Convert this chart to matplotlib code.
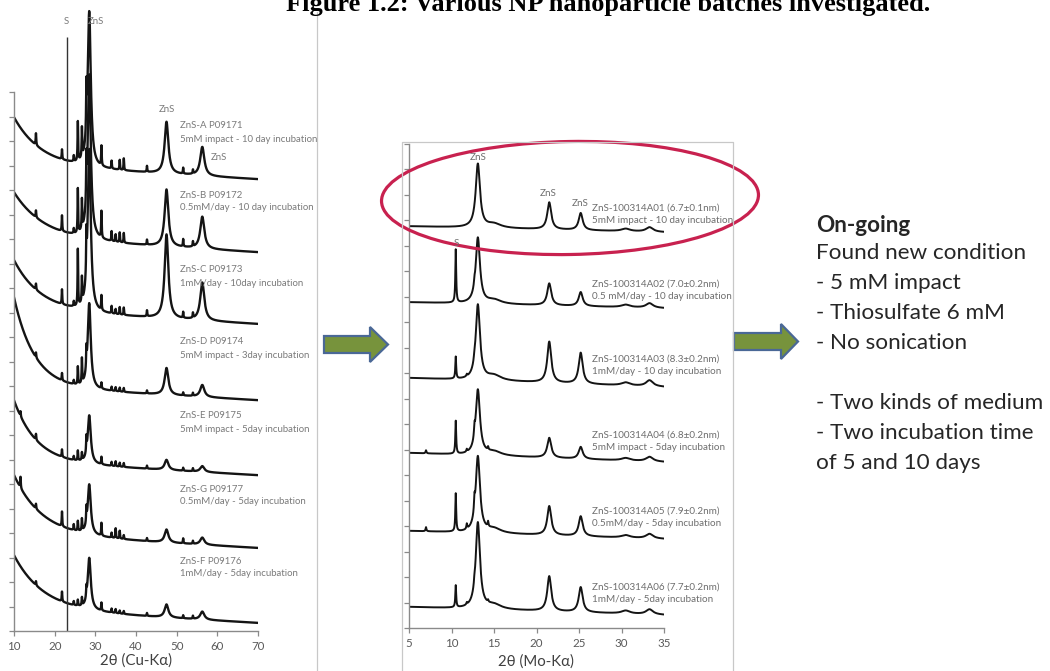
import numpy as np
import matplotlib
matplotlib.use("Agg")
import matplotlib.pyplot as plt
from matplotlib.patches import Ellipse, Polygon

# ---------------- data ----------------
# Left panel: Cu-Ka patterns, intensities in arbitrary units (100 a.u. per y tick)
cu_samples = ["ZnS-A P09171", "ZnS-B P09172", "ZnS-C P09173", "ZnS-D P09174",
              "ZnS-E P09175", "ZnS-G P09177", "ZnS-F P09176"]
cu_conditions = ["5mM impact - 10 day incubation", "0.5mM/day - 10 day incubation",
                 "1mM/day - 10day incubation", "5mM impact - 3day incubation",
                 "5mM impact - 5day incubation", "0.5mM/day - 5day incubation",
                 "1mM/day - 5day incubation"]
cu_level = [1844, 1546, 1253, 942, 636, 339, 33]          # background at 70 deg
cu_slope = [0.94, 0.94, 0.94, 0.94, 0.94, 0.94, 0.94]     # a.u. per degree
cu_decay_amp = [196, 188, 204, 363, 249, 241, 220]        # low-angle background
cu_decay_len = [6.7, 7.4, 6.5, 5.0, 5.5, 6.8, 7.1]
cu_peak_pos = [28.5, 47.5, 56.3]
cu_peak_hwhm = [0.45, 0.55, 0.6]
cu_peak_height = [[632, 212, 118], [669, 233, 131], [661, 343, 155], [347, 110, 49],
                  [196, 41, 24], [204, 53, 29], [210, 53, 33]]
cu_spike_pos = [11.6, 15.4, 21.8, 24.7, 25.7, 26.7, 27.8, 31.5, 34.0, 35.0, 36.0, 37.0, 42.7, 51.6, 54.0]
cu_spike_height = [
    [0, 48, 40, 24, 160, 120, 180, 80, 32, 0, 40, 48, 24, 24, 16],
    [0, 28, 64, 20, 180, 120, 170, 108, 40, 30, 40, 40, 20, 30, 20],
    [0, 24, 60, 20, 230, 100, 160, 60, 30, 20, 30, 30, 24, 24, 20],
    [0, 20, 30, 16, 72, 100, 80, 24, 16, 16, 16, 16, 12, 12, 12],
    [20, 24, 30, 16, 40, 30, 60, 30, 16, 20, 16, 16, 12, 12, 12],
    [45, 20, 60, 24, 40, 48, 60, 52, 20, 40, 32, 16, 12, 20, 12],
    [0, 16, 40, 16, 24, 32, 40, 32, 16, 16, 12, 12, 12, 12, 12],
]
cu_spike_hwhm = 0.08
cu_sulfur_line = 23.0
cu_sulfur_line_top = 2425
cu_xticks = [10, 20, 30, 40, 50, 60, 70]

# Middle panel: Mo-Ka patterns
mo_samples = ["ZnS-100314A01 (6.7\u00b10.1nm)", "ZnS-100314A02 (7.0\u00b10.2nm)",
              "ZnS-100314A03 (8.3\u00b10.2nm)", "ZnS-100314A04 (6.8\u00b10.2nm)",
              "ZnS-100314A05 (7.9\u00b10.2nm)", "ZnS-100314A06 (7.7\u00b10.2nm)"]
mo_conditions = ["5mM impact - 10 day incubation", "0.5 mM/day - 10 day incubation",
                 "1mM/day - 10 day incubation", "5mM impact - 5day incubation",
                 "0.5mM/day - 5day incubation", "1mM/day - 5day incubation"]
mo_level = [1552, 1254, 945, 651, 349, 51]
mo_slope = [0.78, 0.78, 1.18, 1.18, 1.05, 1.05]
mo_peak_pos = [13.1, 21.5, 25.2, 15.0, 30.5, 33.3]
mo_peak_hwhm = [0.3, 0.28, 0.28, 1.0, 0.6, 0.5]
mo_peak_height = [[249, 106, 67, 16, 10, 18], [257, 86, 55, 16, 10, 18],
                  [294, 161, 122, 20, 12, 24], [255, 78, 47, 16, 10, 18],
                  [298, 114, 78, 18, 10, 18], [337, 137, 98, 18, 12, 20]]
mo_spike_pos = [7.0, 10.5, 11.8, 12.7, 14.3]
mo_spike_height = [[0, 0, 0, 0, 0], [0, 208, 0, 16, 0], [0, 86, 8, 16, 0],
                   [12, 129, 10, 40, 12], [16, 149, 20, 50, 20], [0, 86, 8, 16, 8]]
mo_spike_hwhm = 0.06
mo_xticks = [5, 10, 15, 20, 25, 30, 35]

notes_title = "On-going"
notes_lines = ["Found new condition", "- 5 mM impact", "- Thiosulfate 6 mM",
               "- No sonication", "", "- Two kinds of medium",
               "- Two incubation time", "of 5 and 10 days"]

# ---------------- figure ----------------
W, H = 1050, 671
fig = plt.figure(figsize=(W / 100, H / 100), dpi=100)
fig.patch.set_facecolor("white")
FONT = ["Lato", "DejaVu Sans"]
GRAY = "#7a7a7a"
AX = "#8a8a8a"


def box(x0, y0, x1, y1):
    return [x0 / W, 1 - y1 / H, (x1 - x0) / W, (y1 - y0) / H]


def lor(x, p, w, h):
    return h / (1.0 + ((x - p) / w) ** 2)


def style(ax):
    for s in ("top", "right"):
        ax.spines[s].set_visible(False)
    for s in ("left", "bottom"):
        ax.spines[s].set_color(AX)
        ax.spines[s].set_linewidth(1.0)
    ax.tick_params(axis="both", direction="out", length=3.5, width=0.9, colors=AX)
    ax.tick_params(axis="x", labelsize=8.3, labelcolor="#595959", pad=4)
    ax.tick_params(axis="y", labelleft=False)
    for lab in ax.get_xticklabels():
        lab.set_fontfamily(FONT)
    ax.set_facecolor("none")


# Left panel axes (spans to top of figure; y spine bounded)
axL = fig.add_axes(box(14, 0, 258, 631))
xl = np.arange(10, 70.001, 0.02)
for i in range(len(cu_samples)):
    y = cu_level[i] + np.array(cu_slope[i]) * (70 - xl) + cu_decay_amp[i] * np.exp(-(xl - 10) / cu_decay_len[i])
    for p, w, h in zip(cu_peak_pos, cu_peak_hwhm, cu_peak_height[i]):
        y = y + lor(xl, p, w, h)
    for p, h in zip(cu_spike_pos, cu_spike_height[i]):
        y = y + lor(xl, p, cu_spike_hwhm, h)
    axL.plot(xl, y, color="#141414", lw=1.7, solid_joinstyle="round")
axL.vlines(cu_sulfur_line, 0, cu_sulfur_line_top, color="#333333", lw=1.0)
axL.set_xlim(10, 70)
axL.set_ylim(0, 631 * 100 / 24.5)
axL.set_xticks(cu_xticks)
axL.set_yticks(np.arange(0, 2201, 100))
axL.spines["left"].set_bounds(0, 2200)
style(axL)

# Middle panel axes
axM = fig.add_axes(box(409, 143.5, 664, 628))
xm = np.arange(5, 35.001, 0.01)
for i in range(len(mo_samples)):
    y = mo_level[i] + np.array(mo_slope[i]) * (35 - xm)
    for p, w, h in zip(mo_peak_pos, mo_peak_hwhm, mo_peak_height[i]):
        y = y + lor(xm, p, w, h)
    for p, h in zip(mo_spike_pos, mo_spike_height[i]):
        y = y + lor(xm, p, mo_spike_hwhm, h)
    axM.plot(xm, y, color="#141414", lw=1.4, solid_joinstyle="round")
axM.set_xlim(5, 35)
axM.set_ylim(0, 1900)
axM.set_xticks(mo_xticks)
axM.set_yticks(np.arange(0, 1901, 100))
style(axM)

# Overlay in pixel coordinates for annotations / decorations
ov = fig.add_axes([0, 0, 1, 1], zorder=10)
ov.set_xlim(0, W)
ov.set_ylim(H, 0)
ov.axis("off")
ov.patch.set_alpha(0)

# title (partly cut at top edge, as in source)
ov.text(608, 10.5, "Figure 1.2: Various NP nanoparticle batches investigated.",
        ha="center", va="baseline", fontsize=19, fontweight="bold",
        family=["Liberation Serif", "DejaVu Serif"], color="black")

# picture borders
ov.plot([317, 317], [12, H], color="#c8c8c8", lw=0.9)
ov.plot([402, 402, 733, 733], [H, 142, 142, H], color="#c8c8c8", lw=0.9)

# axis labels
ov.text(136, 661, "2\u03b8 (Cu-K\u03b1)", ha="center", va="center", fontsize=10.8,
        color="#404040", family=FONT)
ov.text(536, 662, "2\u03b8 (Mo-K\u03b1)", ha="center", va="center", fontsize=10.8,
        color="#404040", family=FONT)

# left annotations
lab_kw = dict(fontsize=6.9, color=GRAY, family=FONT, va="center")
for (t, x, y) in [("S", 66, 22), ("ZnS", 96, 22), ("ZnS", 167, 110), ("ZnS", 219, 158)]:
    ov.text(x, y, t, ha="center", **lab_kw)
cu_label_y = [126, 195, 270, 342, 416, 489, 561]
for s, c, y in zip(cu_samples, cu_conditions, cu_label_y):
    ov.text(180, y, s, ha="left", **lab_kw)
    ov.text(180, y + 13, c, ha="left", **lab_kw)

# middle annotations
mlab_kw = dict(fontsize=7.1, color="#6e6e6e", family=FONT, va="center")
for (t, x, y) in [("ZnS", 478, 157), ("ZnS", 548, 193), ("ZnS", 580, 204), ("S", 456, 244)]:
    ov.text(x, y, t, ha="center", **mlab_kw)
mo_label_y = [208, 284, 359, 435, 511, 587]
for s, c, y in zip(mo_samples, mo_conditions, mo_label_y):
    ov.text(592, y, s, ha="left", **mlab_kw)
    ov.text(592, y + 12.5, c, ha="left", **mlab_kw)

# red ellipse
ov.add_patch(Ellipse((570, 198), 377, 113, angle=-1.0, fill=False,
                     edgecolor="#c8214f", lw=2.3))


# arrows
def arrow(x0, xh, xt, yc, hs=8.5, hh=17.5):
    pts = [(x0, yc - hs), (xh, yc - hs), (xh, yc - hh), (xt, yc),
           (xh, yc + hh), (xh, yc + hs), (x0, yc + hs)]
    ov.add_patch(Polygon(pts, closed=True, facecolor="#77933c",
                         edgecolor="#4a6896", lw=1.6, joinstyle="miter"))


arrow(324, 370, 388, 344.5)
arrow(734, 781, 798, 341.5)

# notes on the right
ov.text(816, 225, notes_title, ha="left", va="center", fontsize=16.2,
        fontweight="bold", color="#262626", family=FONT)
for k, line in enumerate(notes_lines):
    ov.text(816, 253 + 30 * k, line, ha="left", va="center", fontsize=16.2,
            color="#262626", family=FONT)

fig.savefig("out.png", dpi=100)
